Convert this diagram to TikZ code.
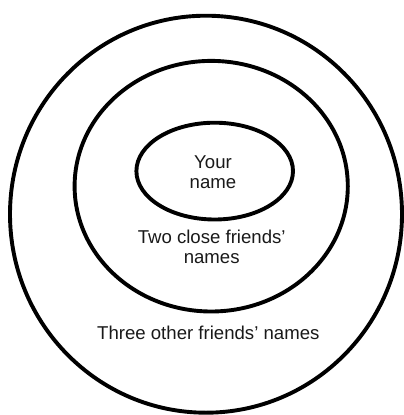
\documentclass[tikz,border=0pt]{standalone}
\usepackage{fontspec}
\setmainfont{Liberation Sans}
\usetikzlibrary{shapes.geometric}
\begin{document}
\begin{tikzpicture}[x=1pt,y=-1pt,
  ring/.style={ellipse,draw=black,line width=3.9pt,inner sep=0pt,fill=none},
  lbl/.style={font=\fontsize{18.6}{20}\selectfont,align=center,inner sep=0pt,text=black!90}]
\useasboundingbox (0,0) rectangle (404,415);
\node[ring,minimum width=392pt,minimum height=397pt] (outer) at (206,214.2) {};
\node[ring,minimum width=273.2pt,minimum height=250.6pt] (middle) at (211.2,186.2) {};
\node[ring,minimum width=156.6pt,minimum height=96.8pt] (inner) at (214.7,171.1) {};
\node[lbl,anchor=base] (you) at (213,188.3) {Your\\name};
\node[lbl,anchor=base] (close) at (211.7,263.3) {Two close friends’\\names};
\node[lbl,anchor=base] (other) at (208.3,339.3) {Three other friends’ names};
\end{tikzpicture}
\end{document}
